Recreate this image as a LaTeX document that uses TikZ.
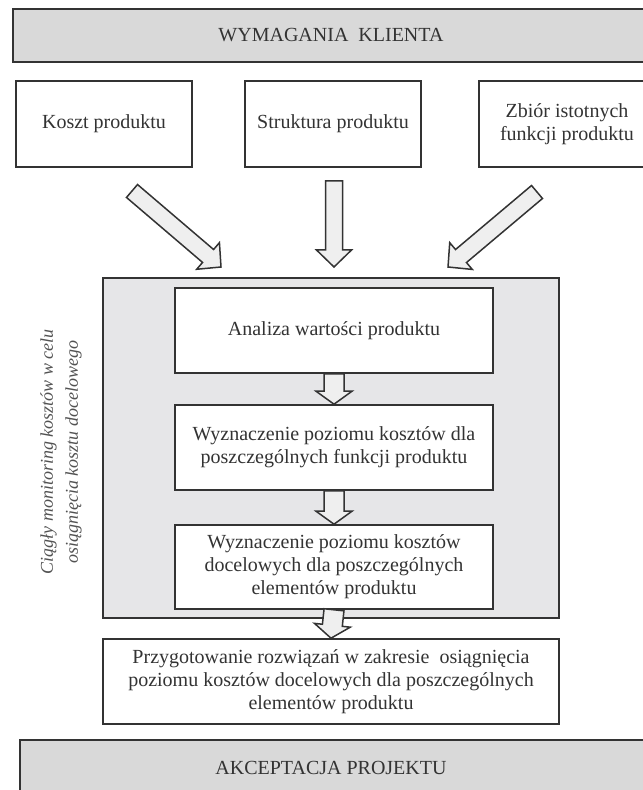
\documentclass[tikz,border=0pt]{standalone}
\usepackage{fontspec}
\setmainfont{Liberation Serif}
\usetikzlibrary{calc}
\definecolor{bannergray}{HTML}{D9D9D9}
\definecolor{panelgray}{HTML}{E6E6E8}
\definecolor{arrowgray}{HTML}{EFEFEF}
\definecolor{inkgray}{HTML}{333333}
% block arrow: from, to, shaft half width, head half width, head length
\newcommand{\blkarrow}[5]{%
	\coordinate (hb) at ($(#2)!#5!(#1)$);
	\draw[blockarrow] ($(#1)!#3!90:(#2)$) -- ($(hb)!#3!90:(#2)$) -- ($(hb)!#4!90:(#2)$) -- (#2) -- ($(hb)!#4!-90:(#2)$) -- ($(hb)!#3!-90:(#2)$) -- ($(#1)!#3!-90:(#2)$) -- cycle;}
\begin{document}
\begin{tikzpicture}[x=0.5pt,y=-0.5pt,
		box/.style={draw=inkgray,line width=0.8pt,fill=white,text=inkgray,align=center,inner sep=0pt,font=\fontsize{10}{11.5}\selectfont},
		bannerbox/.style={draw=inkgray,line width=0.8pt,fill=bannergray},
		bannertext/.style={text=inkgray,font=\fontsize{10}{12}\selectfont},
		blockarrow/.style={draw=inkgray,line width=0.75pt,fill=arrowgray,line join=miter}]
		\useasboundingbox (0,0) rectangle (642,790);
		%\clip (0,0) rectangle (642,790);
		\draw[bannerbox] (13,9) rectangle (660,62);
		\node[bannertext] (klient) at (331,35.5) {WYMAGANIA\ \ KLIENTA};
		\node[box,minimum width=88pt,minimum height=43pt] (koszt) at (104,124) {Koszt produktu};
		\node[box,minimum width=88pt,minimum height=43pt] (struktura) at (333,124) {Struktura produktu};
		\node[box,minimum width=88pt,minimum height=43pt] (funkcje) at (567,124) {Zbiór istotnych\\funkcji produktu};
		\node[box,fill=panelgray,minimum width=228pt,minimum height=170pt] (panel) at (331,448) {};
		\node[box,minimum width=159pt,minimum height=42.5pt] (analiza) at (334,330.5) {Analiza wartości produktu};
		\node[box,minimum width=159pt,minimum height=42.5pt] (koszty) at (334,447.5) {Wyznaczenie poziomu kosztów dla\\poszczególnych funkcji produktu};
		\node[box,minimum width=159pt,minimum height=42pt] (elementy) at (334,567) {Wyznaczenie poziomu kosztów\\docelowych dla poszczególnych\\elementów produktu};
		\node[box,minimum width=228pt,minimum height=42.5pt] (rozwiazania) at (331,681.5) {Przygotowanie rozwiązań w zakresie\ \ osiągnięcia\\poziomu kosztów docelowych dla poszczególnych\\elementów produktu};
		\draw[bannerbox] (20,740) rectangle (660,800);
		\node[bannertext] (akceptacja) at (331,768) {AKCEPTACJA PROJEKTU};
		\node[rotate=90,text=inkgray!85,align=center,font=\fontsize{9}{12.5}\selectfont\itshape] (monitoring) at (61,452) {Ciągły monitoring kosztów w celu\\osiągnięcia kosztu docelowego};
		\coordinate (k0) at (132,191);
		\coordinate (k1) at (221,267);
		\coordinate (s0) at (334,181);
		\coordinate (s1) at (334,267);
		\coordinate (f0) at (537,192);
		\coordinate (f1) at (448,267);
		\blkarrow{k0}{k1}{4.25pt}{8.75pt}{8.5pt}
		\blkarrow{s0}{s1}{4.25pt}{8.75pt}{8.5pt}
		\blkarrow{f0}{f1}{4.25pt}{8.75pt}{8.5pt}
		\blkarrow{analiza.south}{koszty.north}{5pt}{9pt}{6.5pt}
		\blkarrow{koszty.south}{elementy.north}{5pt}{9pt}{6.5pt}
		\blkarrow{elementy.south}{rozwiazania.north}{5pt}{9pt}{6.5pt}
	\end{tikzpicture}
\end{document}
